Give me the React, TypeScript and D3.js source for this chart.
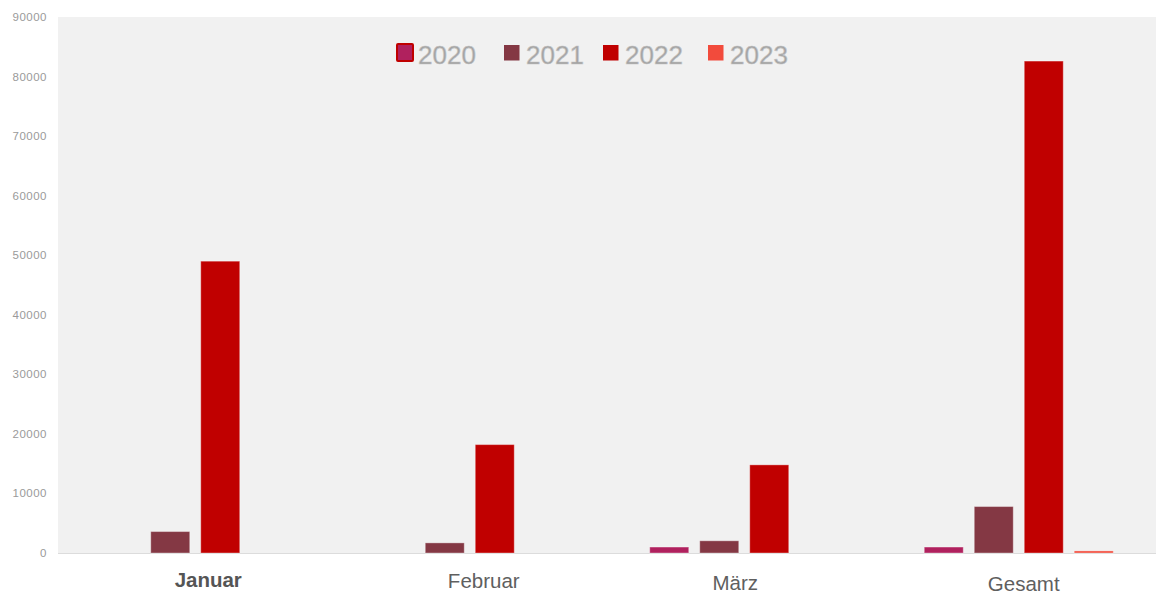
import React from "react";
import * as d3 from "d3";

const categories = ["Januar", "Februar", "März", "Gesamt"];
const seriesNames = ["2020", "2021", "2022", "2023"];
const values2020 = [0, 0, 1000, 1000];
const values2021 = [3600, 1700, 2050, 7800];
const values2022 = [49000, 18200, 14800, 82600];
const values2023 = [0, 0, 0, 350];
const yTicks = [0, 10000, 20000, 30000, 40000, 50000, 60000, 70000, 80000, 90000];
const colors = ["#B0215E", "#843844", "#C00000", "#F24B3C"];

const seriesValues = [values2020, values2021, values2022, values2023];

// label tweaks (offset from band center, baseline y)
const labelDx = [13, 14, -9, 5];
const labelY = [587, 588, 590, 591];
const labelBold = [true, false, false, false];

export default function App() {
  const W = 1156, H = 595;
  const left = 58, right = 1156, top = 17, bottom = 553;
  const x0 = d3.scaleBand<string>().domain(categories).range([left, right]).padding(0);
  const x1 = d3.scaleBand<string>().domain(seriesNames).range([-94.5, 94.5]).paddingInner(0.22).paddingOuter(0);
  const y = d3.scaleLinear().domain([0, 90000]).range([bottom, top]);

  const legendX = [396, 504, 603, 708];

  return (
    <svg width={W} height={H} style={{ position: "absolute", left: 0, top: 0, background: "#fff" }}
      fontFamily="'Liberation Sans', Arial, sans-serif">
      <rect x={left} y={top} width={right - left} height={bottom - top} fill="#F1F1F1" />
      <line x1={left} x2={right} y1={bottom + 0.5} y2={bottom + 0.5} stroke="#DCDCDC" />
      {yTicks.map((t) => (
        <text key={t} x={47} y={y(t)} dy="0.35em" textAnchor="end" fontSize={11.5} fill="#9A9A9A" letterSpacing={0.5}>
          {t}
        </text>
      ))}
      {categories.map((c, ci) => {
        const cx = (x0(c) as number) + x0.bandwidth() / 2;
        return (
          <g key={c}>
            {seriesNames.map((s, si) => {
              const v = seriesValues[si][ci];
              if (!v) return null;
              const bx = cx + (x1(s) as number);
              return (
                <rect key={s} x={bx} y={y(v)} width={x1.bandwidth()} height={bottom - y(v)}
                  fill={colors[si]} stroke="rgba(255,255,255,0.35)" strokeWidth={1} />
              );
            })}
            <text x={cx + labelDx[ci]} y={labelY[ci]} textAnchor="middle" fontSize={20.5}
              fontWeight={labelBold[ci] ? "bold" : "normal"} fill={labelBold[ci] ? "#555" : "#5F5F5F"}>
              {c}
            </text>
          </g>
        );
      })}
      {seriesNames.map((s, i) => (
        <g key={s}>
          {i === 0 ? (
            <rect x={legendX[i] + 1} y={44} width={16} height={17} fill={colors[i]} stroke="#C00000" strokeWidth={2} rx={1} />
          ) : (
            <rect x={legendX[i]} y={45} width={15.5} height={15.5} fill={colors[i]} />
          )}
          <text x={legendX[i] + 22} y={64} fontSize={26} fill="#A2A2A2" stroke="#C4C4C4" strokeWidth={0.6}>
            {s}
          </text>
        </g>
      ))}
    </svg>
  );
}
